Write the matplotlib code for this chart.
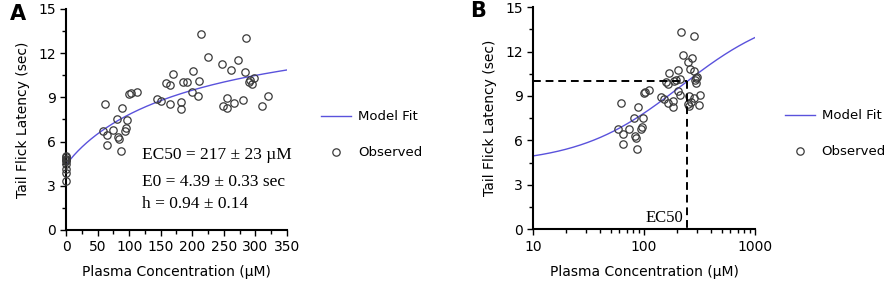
import numpy as np
import matplotlib
matplotlib.use('Agg')
import matplotlib.pyplot as plt
from matplotlib.ticker import MultipleLocator, FixedLocator, NullFormatter

# observed data (plasma concentration uM, tail flick latency sec)
conc = [0, 0, 0, 0, 0, 0, 0, 0, 0,
        62.2, 58.5, 64.3, 64.3, 73.8, 80.7, 82.2, 83.8, 86.5, 88.0,
        93.3, 95.4, 97.0, 100.2, 102.8, 111.8, 143.4, 150.8, 157.6, 164.5,
        165.5, 169.2, 181.9, 181.9, 185.0, 192.4, 201.9, 200.3, 210.3, 209.3,
        214.5, 225.6, 246.7, 249.3, 255.7, 254.6, 260.9, 265.7, 273.1, 281.0,
        283.1, 284.6, 289.4, 291.5, 294.7, 297.3, 310.5, 319.5]
latency = [3.3, 3.85, 4.15, 4.5, 4.65, 4.75, 4.85, 4.95, 5.05,
           8.54, 6.75, 6.44, 5.78, 6.80, 7.52, 6.30, 6.16, 5.39, 8.25,
           6.75, 6.89, 7.48, 9.22, 9.27, 9.38, 8.91, 8.77, 9.97, 9.81,
           8.54, 10.58, 8.66, 8.23, 10.04, 10.06, 10.76, 9.36, 10.13, 9.06,
           13.32, 11.74, 11.28, 8.43, 8.97, 8.29, 10.83, 8.61, 11.56, 8.84,
           10.70, 13.05, 10.06, 10.20, 9.90, 10.29, 8.41, 9.06]

# model parameters
E0 = 4.39
Emax = 10.6
EC50 = 217
h = 0.94
ec50_line_x = 242
ec50_line_y = 10.0

fit_color = '#5a52dc'
mk = dict(mfc='none', mec='#3a3a3a', ms=5.3, mew=0.9)


def model(c):
    return E0 + Emax * c**h / (EC50**h + c**h)


def style_axes(ax):
    for s in ['top', 'right']:
        ax.spines[s].set_visible(False)
    for s in ['left', 'bottom']:
        ax.spines[s].set_linewidth(1.5)
    ax.tick_params(which='both', direction='out', width=1.0, labelsize=10)
    ax.tick_params(which='major', length=4)
    ax.tick_params(which='minor', length=3)
    ax.set_ylim(0, 15)
    ax.yaxis.set_major_locator(MultipleLocator(3))
    ax.yaxis.set_minor_locator(MultipleLocator(1.5))
    ax.set_ylabel('Tail Flick Latency (sec)', fontsize=10, labelpad=6)
    ax.set_xlabel('Plasma Concentration (µM)', fontsize=10, labelpad=8)


fig = plt.figure(figsize=(8.86, 2.90), dpi=100)

# panel A
axA = fig.add_axes([0.0745, 0.207, 0.2494, 0.762])
xa = np.linspace(0, 350, 300)
axA.plot(xa, model(xa), color=fit_color, lw=1.0, label='Model Fit', zorder=2)
axA.plot(conc, latency, 'o', label='Observed', zorder=3, clip_on=False, **mk)
axA.set_xlim(0, 350)
axA.xaxis.set_major_locator(MultipleLocator(50))
axA.xaxis.set_minor_locator(MultipleLocator(25))
style_axes(axA)
axA.text(120, 5.1, 'EC50 = 217 ± 23 µM', family='Liberation Serif', fontsize=12.5, va='center')
axA.text(120, 3.25, 'E0 = 4.39 ± 0.33 sec', family='Liberation Serif', fontsize=12.5, va='center')
axA.text(120, 1.77, 'h = 0.94 ± 0.14', family='Liberation Serif', fontsize=12.5, va='center')
axA.legend(loc='center left', bbox_to_anchor=(1.1, 0.43), frameon=False,
           fontsize=9.5, handlelength=2.3, labelspacing=1.75, handletextpad=0.5)

# panel B
axB = fig.add_axes([0.6016, 0.21, 0.2506, 0.765])
xb = np.logspace(1, 3, 300)
pos = [(c, l) for c, l in zip(conc, latency) if c > 0]
axB.plot(xb, model(xb), color=fit_color, lw=1.0, label='Model Fit', zorder=2)
axB.plot([p[0] for p in pos], [p[1] for p in pos], 'o', label='Observed', zorder=3, **mk)
axB.plot([10, ec50_line_x], [ec50_line_y, ec50_line_y], '--', color='black', lw=1.4,
         dashes=(4, 2.5), zorder=4)
axB.plot([ec50_line_x, ec50_line_x], [ec50_line_y, 0], '--', color='black', lw=1.4,
         dashes=(4, 2.5), zorder=4)
axB.set_xscale('log')
axB.set_xlim(10, 1000)
axB.xaxis.set_major_locator(FixedLocator([10, 100, 1000]))
axB.xaxis.set_major_formatter(matplotlib.ticker.FixedFormatter(['10', '100', '1000']))
axB.xaxis.set_minor_locator(FixedLocator([20, 30, 40, 50, 60, 70, 80, 90,
                                          200, 300, 400, 500, 600, 700, 800, 900]))
axB.xaxis.set_minor_formatter(NullFormatter())
style_axes(axB)
axB.text(ec50_line_x * 0.93, 0.75, 'EC50', family='Liberation Serif', fontsize=12,
         ha='right', va='center')
axB.legend(loc='center left', bbox_to_anchor=(1.08, 0.43), frameon=False,
           fontsize=9.5, handlelength=2.3, labelspacing=1.75, handletextpad=0.5)

fig.text(0.011, 0.93, 'A', fontsize=15, fontweight='bold')
fig.text(0.531, 0.94, 'B', fontsize=15, fontweight='bold')

fig.savefig('out.png', dpi=100)
